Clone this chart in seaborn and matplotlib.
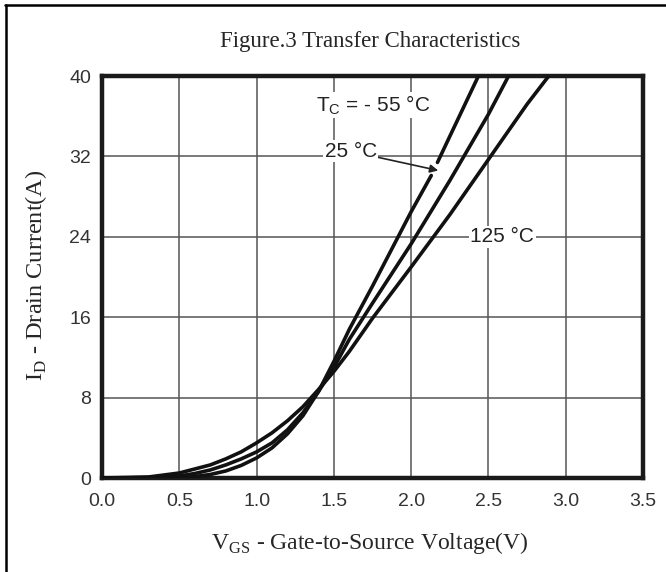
import numpy as np
import pandas as pd
import matplotlib
matplotlib.use("Agg")
import matplotlib.pyplot as plt
from matplotlib.lines import Line2D
import seaborn as sns

# ------------------------------------------------------------
# DATA
# ------------------------------------------------------------
V_125 = [0, 0.3, 0.5, 0.6, 0.7, 0.8, 0.9, 1.0, 1.1, 1.2, 1.3, 1.4, 1.5, 1.6, 1.75, 2.0, 2.25, 2.5, 2.75, 2.89]
I_125 = [0, 0.1, 0.5, 0.9, 1.3, 1.9, 2.6, 3.5, 4.5, 5.7, 7.1, 8.8, 10.6, 12.6, 15.9, 21.0, 26.2, 31.7, 37.2, 40]

V_25 = [0, 0.4, 0.5, 0.6, 0.7, 0.8, 0.9, 1.0, 1.1, 1.2, 1.3, 1.4, 1.5, 1.6, 1.75, 2.0, 2.25, 2.5, 2.63]
I_25 = [0, 0.05, 0.2, 0.45, 0.8, 1.3, 1.9, 2.6, 3.5, 4.8, 6.5, 8.6, 11.0, 13.8, 17.4, 23.3, 29.6, 36.2, 40]

# -55 C curve is drawn with a small break where the 25 C arrow points
V_M55_LO = [0, 0.5, 0.6, 0.7, 0.8, 0.9, 1.0, 1.1, 1.2, 1.3, 1.4, 1.5, 1.6, 1.75, 2.0, 2.13]
I_M55_LO = [0, 0.05, 0.15, 0.35, 0.7, 1.25, 2.0, 3.0, 4.4, 6.2, 8.6, 11.6, 14.8, 19.1, 26.5, 30.1]
V_M55_HI = [2.17, 2.25, 2.435]
I_M55_HI = [31.4, 34.0, 40]

X_TICKS = [0.0, 0.5, 1.0, 1.5, 2.0, 2.5, 3.0, 3.5]
Y_TICKS = [0, 8, 16, 24, 32, 40]

# long table, one unit per drawn segment
segs = [("125", V_125, I_125), ("25", V_25, I_25),
        ("-55a", V_M55_LO, I_M55_LO), ("-55b", V_M55_HI, I_M55_HI)]
df = pd.concat([pd.DataFrame({"V": v, "I": i, "seg": s}) for s, v, i in segs],
               ignore_index=True)

# ------------------------------------------------------------
# STYLE
# ------------------------------------------------------------
sns.set_style("white")
plt.rcParams["font.family"] = ["Liberation Sans", "DejaVu Sans"]
plt.rcParams["mathtext.fontset"] = "custom"
plt.rcParams["mathtext.rm"] = "Liberation Serif"
plt.rcParams["mathtext.sf"] = "Liberation Sans"

fig = plt.figure(figsize=(6.66, 5.72), dpi=100)
ax = fig.add_axes([0.1532, 0.1643, 0.8123, 0.7028])

sns.lineplot(data=df, x="V", y="I", units="seg", estimator=None, sort=False,
             color="#111111", lw=2.6, ax=ax, legend=False, zorder=3)

ax.set_xlim(0, 3.5)
ax.set_ylim(0, 40)
ax.set_xticks(X_TICKS)
ax.set_xticklabels([f"{t:.1f}" for t in X_TICKS])
ax.set_yticks(Y_TICKS)
ax.tick_params(length=0, labelsize=14, labelcolor="#333333")
ax.tick_params(axis="x", pad=11)
ax.tick_params(axis="y", pad=8)
ax.grid(True, color="#555555", lw=1.1)
ax.set_axisbelow(True)
ax.set_xlabel("")
ax.set_ylabel("")
for sp in ax.spines.values():
    sp.set_linewidth(3.2)
    sp.set_color("#1a1a1a")

# curve labels
box = dict(facecolor="white", edgecolor="none", pad=1)
ax.text(1.753, 37.1, r"$\mathsf{T}_{\mathsf{C}}$ = - 55 °C", ha="center", va="center",
        fontsize=15, color="#222222", bbox=box, zorder=2)
ax.annotate("25 °C", xy=(2.175, 30.6), xytext=(1.61, 32.5), ha="center", va="center",
            fontsize=15, color="#222222", bbox=box, zorder=2,
            arrowprops=dict(arrowstyle="-|>", color="#222222", lw=1.2,
                            shrinkA=0, shrinkB=0, mutation_scale=12))
ax.text(2.59, 24, "125 °C", ha="center", va="center", fontsize=15,
        color="#222222", bbox=box, zorder=2)

# titles and axis captions in serif
serif = ["Liberation Serif", "DejaVu Serif"]
fig.text(0.5556, 0.9266, "Figure.3 Transfer Characteristics", ha="center", va="center",
         fontsize=16.5, family=serif)
fig.text(0.5556, 0.0507, r"V$_{\mathrm{GS}}$ - Gate-to-Source Voltage(V)", ha="center",
         va="center", fontsize=17, family=serif)
fig.text(0.054, 0.519, r"I$_{\mathrm{D}}$ - Drain Current(A)", ha="center", va="center",
         rotation=90, fontsize=17.5, family=serif)

# frame lines (top and left) of the cropped figure box
fig.add_artist(Line2D([0.008, 1.0], [0.991, 0.991], color="black", lw=1.8))
fig.add_artist(Line2D([0.009, 0.009], [0.0, 0.991], color="black", lw=1.8))

fig.savefig("out.png", dpi=100)
